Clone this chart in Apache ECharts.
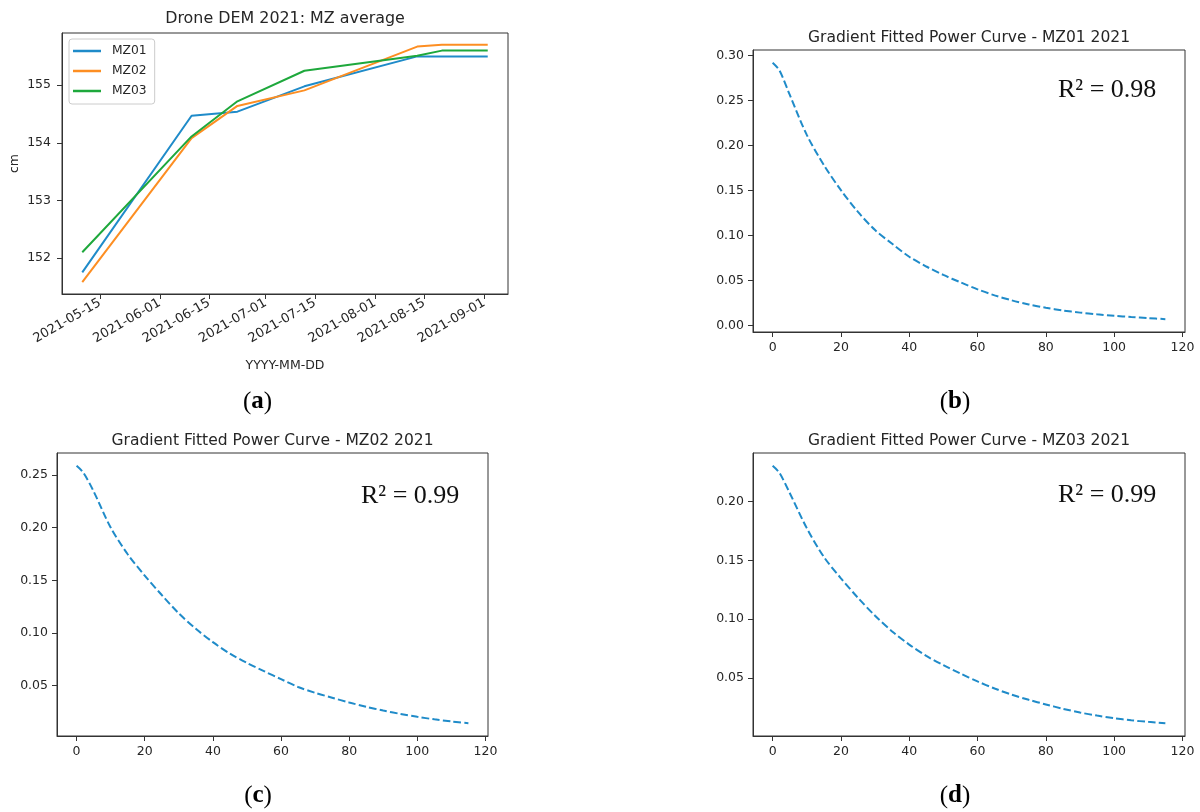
<!DOCTYPE html>
<html>
<head>
<meta charset="utf-8">
<title>Drone DEM 2021 and gradient fitted power curves</title>
<script src="https://cdn.jsdelivr.net/npm/echarts@6/dist/echarts.min.js"></script>
<style>
  html, body { margin: 0; padding: 0; background: #ffffff; }
  #chart { width: 1200px; height: 812px; }
</style>
</head>
<body>
<div id="chart"></div>
<script>
// ---- Panel (a): mean DEM height per management zone (cm) on each survey date ----
const surveyDates = ['2021-05-10', '2021-06-10', '2021-06-23', '2021-07-12', '2021-08-13', '2021-08-20', '2021-09-02'];
const mz01Height = [151.75, 154.47, 154.54, 154.98, 155.50, 155.50, 155.50];
const mz02Height = [151.58, 154.08, 154.64, 154.91, 155.67, 155.70, 155.70];
const mz03Height = [152.10, 154.11, 154.72, 155.25, 155.51, 155.60, 155.60];
const dateTicks = ['2021-05-15', '2021-06-01', '2021-06-15', '2021-07-01', '2021-07-15', '2021-08-01', '2021-08-15', '2021-09-01'];
const heightTicks = [152, 153, 154, 155];

// ---- Panels (b)-(d): fitted gradient against days since the first survey ----
const days = [0, 2, 5, 10, 15, 20, 25, 30, 35, 40, 45, 50, 55, 60, 65, 70, 75, 80, 85, 90, 95, 100, 105, 110, 115];
const gradMZ01 = [0.2920, 0.2835, 0.2565, 0.2118, 0.1783, 0.1503, 0.1261, 0.1059, 0.0907, 0.0763, 0.0654, 0.0560, 0.0478,
                  0.0400, 0.0333, 0.0278, 0.0232, 0.0195, 0.0165, 0.0141, 0.0122, 0.0106, 0.0092, 0.0080, 0.0068];
const gradMZ02 = [0.2585, 0.2520, 0.2343, 0.2000, 0.1747, 0.1544, 0.1360, 0.1186, 0.1040, 0.0913, 0.0804, 0.0716, 0.0638,
                  0.0562, 0.0488, 0.0433, 0.0386, 0.0341, 0.0300, 0.0264, 0.0233, 0.0205, 0.0181, 0.0161, 0.0145];
const gradMZ03 = [0.2302, 0.2242, 0.2072, 0.1773, 0.1529, 0.1347, 0.1181, 0.1029, 0.0896, 0.0784, 0.0688, 0.0609, 0.0538,
                  0.0471, 0.0411, 0.0359, 0.0315, 0.0276, 0.0239, 0.0207, 0.0181, 0.0159, 0.0141, 0.0128, 0.0117];
const dayTicks = [0, 20, 40, 60, 80, 100, 120];
const gradTicksMZ01 = [0, 0.05, 0.10, 0.15, 0.20, 0.25, 0.30];
const gradTicksMZ02 = [0.05, 0.10, 0.15, 0.20, 0.25];
const gradTicksMZ03 = [0.05, 0.10, 0.15, 0.20];
const r2Values = [0.98, 0.99, 0.99];

// ---- helpers ----
const toTs = s => { const [y, m, d] = s.split('-').map(Number); return Date.UTC(y, m - 1, d); };
const pad2 = n => (n < 10 ? '0' : '') + n;
const fmtDate = ts => { const d = new Date(ts); return d.getUTCFullYear() + '-' + pad2(d.getUTCMonth() + 1) + '-' + pad2(d.getUTCDate()); };
// matplotlib-style 5% autoscale margins
const padRange = arr => { const lo = Math.min(...arr), hi = Math.max(...arr), m = (hi - lo) * 0.05; return [lo - m, hi + m]; };

const SANS = 'DejaVu Sans';
const SERIF = 'Liberation Serif';
const INK = '#262626';
const FRAME = '#333333';
const TICK_FS = 12.5;
const C_BLUE = '#1f8bc9', C_ORANGE = '#fd8e22', C_GREEN = '#1ea83c';

const dateTs = surveyDates.map(toTs);
const [xMinA, xMaxA] = padRange(dateTs);
const [yMinA, yMaxA] = padRange([...mz01Height, ...mz02Height, ...mz03Height]);
const [xMinD, xMaxD] = padRange(days);

const grids = [
  { left: 62, top: 33, width: 446, height: 261 },
  { left: 753, top: 50, width: 432, height: 282 },
  { left: 57, top: 453, width: 431, height: 283 },
  { left: 753, top: 453, width: 432, height: 283 }
].map(g => Object.assign({ show: true, borderColor: FRAME, borderWidth: 1, backgroundColor: 'transparent', containLabel: false, outerBoundsMode: 'none' }, g));

function valueAxis(gridIndex, min, max, ticks, fmt, extra) {
  return Object.assign({
    type: 'value', gridIndex, min, max, scale: true,
    axisLine: { show: true, onZero: false, lineStyle: { color: FRAME, width: 1 } },
    axisTick: { show: true, inside: false, length: 5, customValues: ticks, lineStyle: { color: FRAME, width: 1 } },
    axisLabel: { show: true, customValues: ticks, formatter: fmt, fontFamily: SANS, fontSize: TICK_FS, color: INK, margin: 9 },
    splitLine: { show: false }
  }, extra || {});
}

const xAxes = [
  valueAxis(0, xMinA, xMaxA, dateTicks.map(toTs), fmtDate, {
    name: 'YYYY-MM-DD', nameLocation: 'middle', nameGap: 65,
    nameTextStyle: { fontFamily: SANS, fontSize: TICK_FS, color: INK }
  }),
  valueAxis(1, xMinD, xMaxD, dayTicks, v => String(Math.round(v))),
  valueAxis(2, xMinD, xMaxD, dayTicks, v => String(Math.round(v))),
  valueAxis(3, xMinD, xMaxD, dayTicks, v => String(Math.round(v)))
];
xAxes[0].axisLabel.rotate = 30;
xAxes[0].axisLabel.margin = 8;
xAxes[0].axisLabel.fontSize = 13;

const [yMinB, yMaxB] = padRange(gradMZ01);
const [yMinC, yMaxC] = padRange(gradMZ02);
const [yMinDd, yMaxDd] = padRange(gradMZ03);
const fmt2 = v => v.toFixed(2);

const yAxes = [
  valueAxis(0, yMinA, yMaxA, heightTicks, v => String(Math.round(v)), {
    name: 'cm', nameLocation: 'middle', nameGap: 41,
    nameTextStyle: { fontFamily: SANS, fontSize: TICK_FS, color: INK }
  }),
  valueAxis(1, yMinB, yMaxB, gradTicksMZ01, fmt2),
  valueAxis(2, yMinC, yMaxC, gradTicksMZ02, fmt2),
  valueAxis(3, yMinDd, yMaxDd, gradTicksMZ03, fmt2)
];
yAxes[0].axisLabel.margin = 11;

const zip = (xs, ys) => xs.map((x, i) => [x, ys[i]]);
const heightSeries = (name, values, color) => ({
  name, type: 'line', xAxisIndex: 0, yAxisIndex: 0,
  data: zip(dateTs, values), showSymbol: false, symbol: 'none',
  lineStyle: { color, width: 2 }, itemStyle: { color }, z: 3
});
const curveSeries = (idx, values) => ({
  name: 'fit' + idx, type: 'line', xAxisIndex: idx, yAxisIndex: idx,
  data: zip(days, values), showSymbol: false, symbol: 'none',
  smooth: 0.3,
  lineStyle: { color: C_BLUE, width: 2, type: [7.5, 3.2] }, itemStyle: { color: C_BLUE }
});

function text(x, y, str, font, align, fill) {
  return {
    type: 'text', x, y, silent: true,
    style: { text: str, font, fill: fill || INK, align: align || 'center', verticalAlign: 'middle', textAlign: align || 'center', textVerticalAlign: 'middle' }
  };
}
function panelLabel(x, y, letter) {
  return {
    type: 'text', x, y, silent: true,
    style: {
      text: '{p|(}{b|' + letter + '}{p|)}',
      align: 'center', verticalAlign: 'middle', textAlign: 'center', textVerticalAlign: 'middle',
      rich: {
        p: { fontFamily: SERIF, fontSize: 25, color: '#111' },
        b: { fontFamily: SERIF, fontSize: 25, fontWeight: 'bold', color: '#111' }
      }
    }
  };
}

const titleFontA = '15.9px "' + SANS + '"';
const titleFont = '15.5px "' + SANS + '"';
const r2Font = '26px "' + SERIF + '"';
const r2Text = v => 'R\u00b2 = ' + v.toFixed(2);

const option = {
  animation: false,
  backgroundColor: '#ffffff',
  grid: grids,
  xAxis: xAxes,
  yAxis: yAxes,
  legend: {
    data: ['MZ01', 'MZ02', 'MZ03'],
    orient: 'vertical', left: 69, top: 39,
    padding: [5, 8, 6, 4],
    itemGap: 6, itemWidth: 28, itemHeight: 2.5, icon: 'rect',
    backgroundColor: '#ffffff', borderColor: '#cccccc', borderWidth: 1, borderRadius: 3,
    textStyle: { fontFamily: SANS, fontSize: 12.3, color: INK, lineHeight: 14, padding: [0, 0, 0, 6] },
    selectedMode: false
  },
  series: [
    heightSeries('MZ01', mz01Height, C_BLUE),
    heightSeries('MZ02', mz02Height, C_ORANGE),
    heightSeries('MZ03', mz03Height, C_GREEN),
    curveSeries(1, gradMZ01),
    curveSeries(2, gradMZ02),
    curveSeries(3, gradMZ03)
  ],
  graphic: [
    text(285, 19, 'Drone DEM 2021: MZ average', titleFontA),
    text(969, 37.5, 'Gradient Fitted Power Curve - MZ01 2021', titleFont),
    text(272.5, 441, 'Gradient Fitted Power Curve - MZ02 2021', titleFont),
    text(969, 441, 'Gradient Fitted Power Curve - MZ03 2021', titleFont),
    text(1058, 90, r2Text(r2Values[0]), r2Font, 'left', '#111'),
    text(361, 496, r2Text(r2Values[1]), r2Font, 'left', '#111'),
    text(1058, 495, r2Text(r2Values[2]), r2Font, 'left', '#111'),
    panelLabel(257.5, 402, 'a'),
    panelLabel(955, 402, 'b'),
    panelLabel(258, 796, 'c'),
    panelLabel(955, 796, 'd')
  ]
};

const chart = echarts.init(document.getElementById('chart'), null, { renderer: 'canvas', width: 1200, height: 812 });
chart.setOption(option);
</script>
</body>
</html>
